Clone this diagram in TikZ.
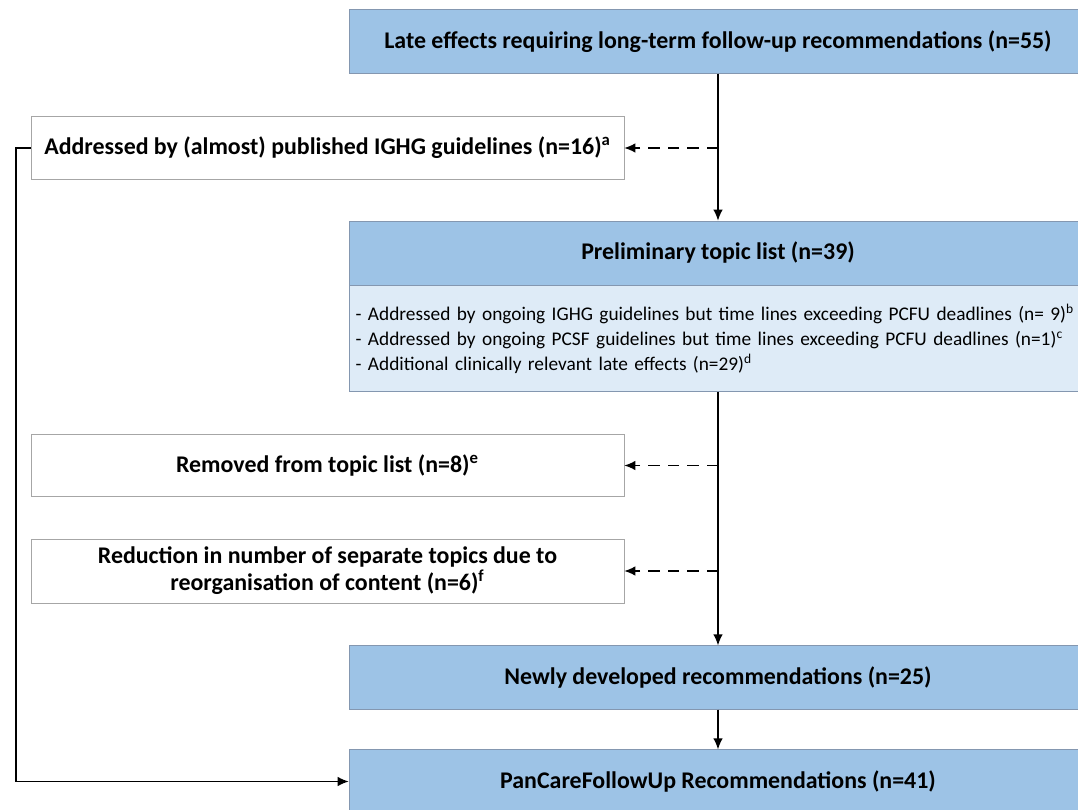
\documentclass[tikz,border=0pt]{standalone}
\usepackage{fontspec}
\setmainfont{Carlito}
\usetikzlibrary{arrows.meta,positioning,calc}
\definecolor{hdrblue}{HTML}{9DC3E6}
\definecolor{lightblue}{HTML}{DEEBF7}
\definecolor{boxline}{HTML}{8497B0}
\definecolor{greyline}{HTML}{A6A6A6}
\begin{document}
\begin{tikzpicture}[x=0.02cm, y=-0.02cm,
  mainbox/.style={draw=boxline,fill=hdrblue,minimum width=14.76cm,minimum height=1.27cm,inner sep=0pt,font=\fontsize{13.6}{15.3}\selectfont\bfseries},
  sidebox/.style={draw=greyline,fill=white,minimum width=11.86cm,minimum height=1.25cm,inner sep=0pt,align=center,font=\fontsize{13.6}{15.3}\selectfont\bfseries},
  flow/.style={-{Latex[length=2.2mm,width=1.9mm]},line width=0.75pt},
  skip/.style={-{Latex[length=2.2mm,width=1.9mm]},line width=0.75pt,dash pattern=on 2.3mm off 1.6mm}]
  \useasboundingbox (0,0) rectangle (1078,810);
  \clip (0,0) rectangle (1078,810);
  \node[mainbox] (late) at (718,41.5) {Late effects requiring long-term follow-up recommendations (n=55)};
  \node[sidebox] (ighg) at (327.5,148) {Addressed by (almost) published IGHG guidelines (n=16)\textsuperscript{a}};
  \node[mainbox,minimum height=1.28cm] (prelim) at (718,253) {Preliminary topic list (n=39)};
  \node[draw=boxline,fill=lightblue,minimum width=14.76cm,minimum height=2.12cm,text width=14.5cm,align=left,inner sep=0pt,
        font=\fontsize{11}{14.2}\selectfont,below=0pt of prelim] (details)
        {- Addressed by ongoing IGHG guidelines but time lines exceeding PCFU deadlines (n= 9)\textsuperscript{b}\\
         - Addressed by ongoing PCSF guidelines but time lines exceeding PCFU deadlines (n=1)\textsuperscript{c}\\
         - Additional clinically relevant late effects (n=29)\textsuperscript{d}};
  \node[sidebox] (removed) at (327.5,465.5) {Removed from topic list (n=8)\textsuperscript{e}};
  \node[sidebox,minimum height=1.28cm] (reduction) at (327.5,571) {Reduction in number of separate topics due to\\reorganisation of content (n=6)\textsuperscript{f}};
  \node[mainbox] (newly) at (718,677.5) {Newly developed recommendations (n=25)};
  \node[mainbox] (pancare) at (718,781.5) {PanCareFollowUp Recommendations (n=41)};
  \coordinate (s1) at (718,148);
  \coordinate (s2) at (718,465.5);
  \coordinate (s3) at (718,571);
  \coordinate (bend) at (16,148);
  \draw[flow] (late) -- (prelim);
  \draw[skip] (s1) -- (ighg);
  \draw[flow] (details) -- (newly);
  \draw[skip] (s2) -- (removed);
  \draw[skip] (s3) -- (reduction);
  \draw[flow] (newly) -- (pancare);
  \draw[flow] (ighg.west) -- (bend) |- (pancare.west);
\end{tikzpicture}
\end{document}
